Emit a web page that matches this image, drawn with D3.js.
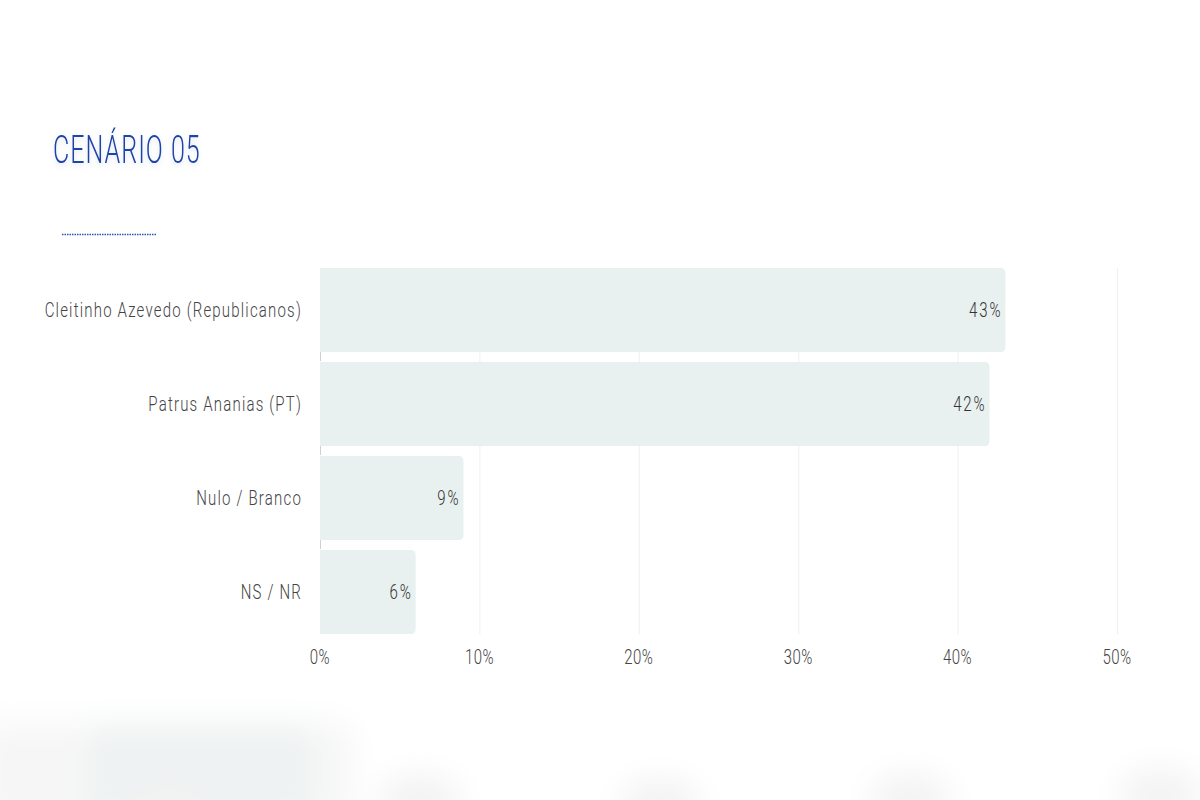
<!DOCTYPE html>
<html><head><meta charset="utf-8">
<script src="https://cdn.jsdelivr.net/npm/d3@7/dist/d3.min.js"></script>
<style>
html,body{margin:0;padding:0;background:#fff;}
svg{display:block;}
text{font-family:"Roboto","DejaVu Sans",sans-serif;font-weight:300;}
</style></head>
<body>
<svg id="c" width="1200" height="800"></svg>
<script>
const title = "CENÁRIO 05";
const categories = ["Cleitinho Azevedo (Republicanos)", "Patrus Ananias (PT)", "Nulo / Branco", "NS / NR"];
const values = [43, 42, 9, 6];
const tickValues = [0, 10, 20, 30, 40, 50];

const svg = d3.select("#c");
const defs = svg.append("defs");
const blur = defs.append("filter").attr("id","blur").attr("x","-50%").attr("y","-50%").attr("width","200%").attr("height","200%");
blur.append("feGaussianBlur").attr("stdDeviation", 16);
const tsh = defs.append("filter").attr("id","tsh").attr("x","-20%").attr("y","-40%").attr("width","140%").attr("height","180%");
tsh.append("feDropShadow").attr("dx",0).attr("dy",2).attr("stdDeviation",3).attr("flood-color","#8aa0c8").attr("flood-opacity",0.35);

// blurred background at bottom
const bg = svg.append("g").attr("filter","url(#blur)");
bg.append("rect").attr("x",-20).attr("y",724).attr("width",370).attr("height",100).attr("fill","#f6f6f6");
bg.append("rect").attr("x",90).attr("y",724).attr("width",220).attr("height",100).attr("fill","#eef2f2");
[[170,805],[420,800],[660,805],[910,800],[1160,795]].forEach(([cx,cy])=>{
  bg.append("ellipse").attr("cx",cx).attr("cy",cy).attr("rx",40).attr("ry",25).attr("fill","#f2f2f2");
});

// title
svg.append("text").attr("fill","#1e44a8")
  .attr("font-size",38).attr("font-weight",400)
  .attr("transform","translate(53,163) scale(0.66,1)")
  .attr("letter-spacing",1.5).attr("filter","url(#tsh)").text(title);
svg.append("line").attr("x1",62).attr("x2",157).attr("y1",234.5).attr("y2",234.5)
  .attr("stroke","#2f55b0").attr("stroke-width",1.5).attr("stroke-dasharray","1.5,1");

const x = d3.scaleLinear().domain([0,50]).range([320,1117]);
const y = d3.scaleBand().domain(categories).range([263,639]).paddingInner(0.1064).paddingOuter(0.0532);

// gridlines
svg.append("g").selectAll("line").data(tickValues.slice(1)).join("line")
  .attr("x1",d=>x(d)+0.5).attr("x2",d=>x(d)+0.5).attr("y1",268).attr("y2",634)
  .attr("stroke","#efefef").attr("stroke-width",1);

// small separators on axis
svg.append("g").selectAll("line").data(categories.slice(1)).join("line")
  .attr("x1",320.5).attr("x2",320.5)
  .attr("y1",d=>y(d)-10).attr("y2",d=>y(d)-1)
  .attr("stroke","#d0d0d0");

// bars (rounded right)
const r = 5;
svg.append("g").selectAll("path").data(categories).join("path")
  .attr("fill","#e9f0f0")
  .attr("d",(d,i)=>{
    const x0 = x(0), x1 = x(values[i]), y0 = y(d), h = y.bandwidth();
    return `M${x0},${y0}H${x1-r}Q${x1},${y0} ${x1},${y0+r}V${y0+h-r}Q${x1},${y0+h} ${x1-r},${y0+h}H${x0}Z`;
  });

// value labels
svg.append("g").selectAll("text").data(categories).join("text")
  .attr("font-size",20).attr("fill","#333").attr("text-anchor","end")
  .attr("letter-spacing",2.5)
  .attr("transform",(d,i)=>`translate(${x(values[i])-3},${y(d)+y.bandwidth()/2+7}) scale(0.75,1)`)
  .text((d,i)=>values[i]+"%");

// category labels
svg.append("g").selectAll("text").data(categories).join("text")
  .attr("font-size",20).attr("fill","#444").attr("text-anchor","end")
  .attr("letter-spacing",1.6)
  .attr("transform",d=>`translate(302,${y(d)+y.bandwidth()/2+7}) scale(0.75,1)`)
  .text(d=>d);

// x axis labels
const ax = svg.append("g").attr("transform","translate(0,664)");
ax.selectAll("text").data(tickValues).join("text")
  .attr("font-size",20).attr("fill","#444").attr("text-anchor","middle")
  .attr("letter-spacing",0.6)
  .attr("transform",d=>`translate(${x(d)},0) scale(0.75,1)`)
  .text(d=>d+"%");
</script>
</body></html>
